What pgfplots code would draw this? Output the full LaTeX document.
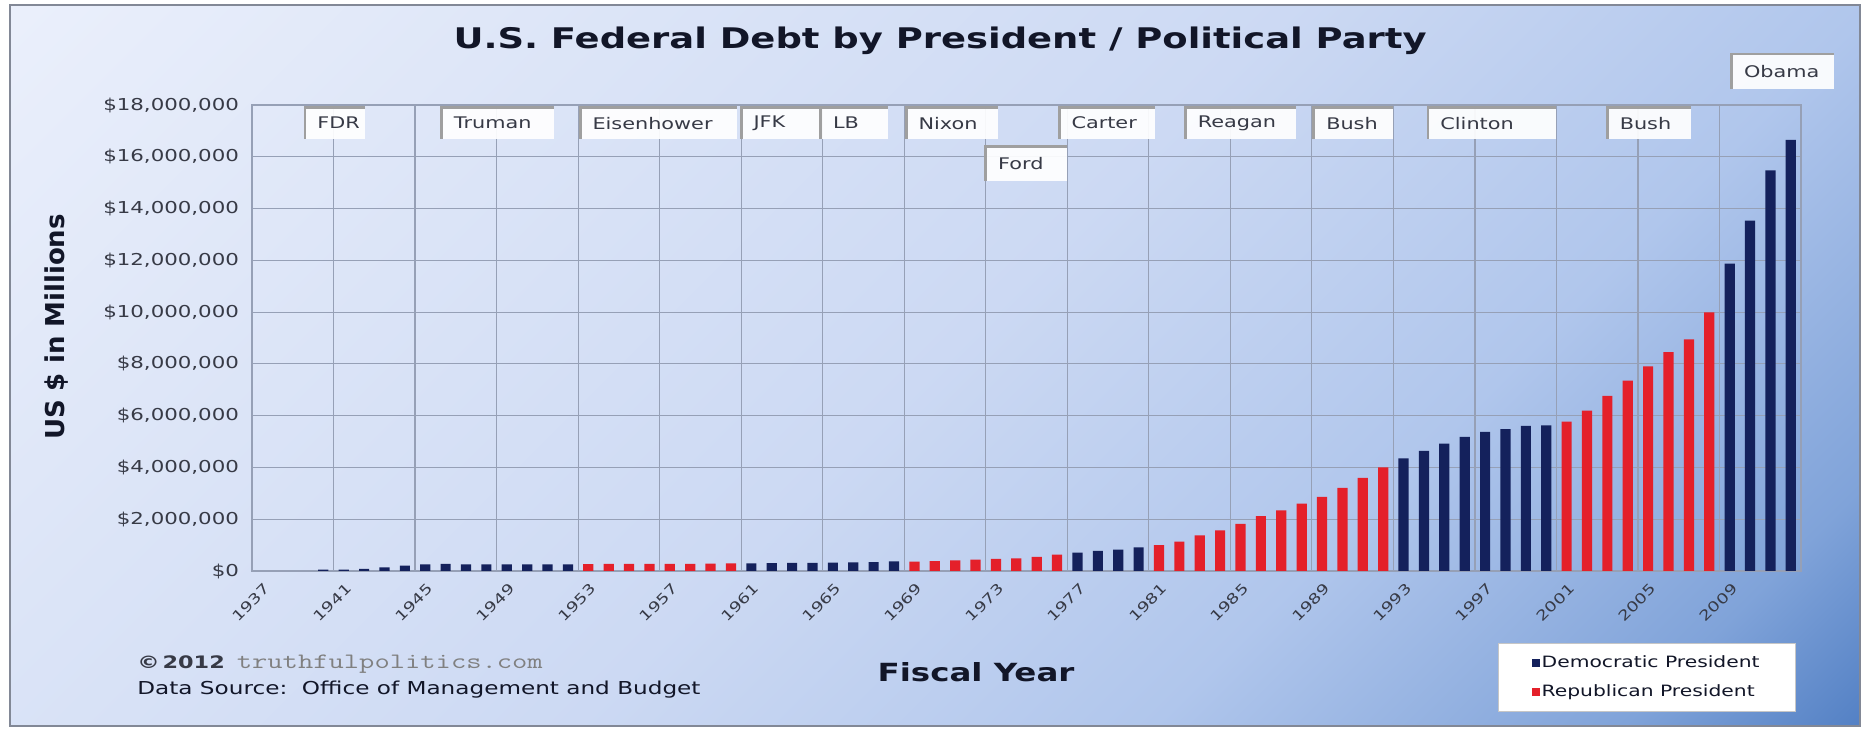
\documentclass[border=0pt]{standalone}
\usepackage{fontspec}
\setmainfont[FakeStretch=1.3]{DejaVu Sans}
\newfontfamily\plainfont{DejaVu Sans}
\usepackage{graphicx}
\usepackage{pgfplots}
\pgfplotsset{compat=1.18}

\definecolor{demblue}{RGB}{20,33,92}
\definecolor{repred}{RGB}{228,32,42}
\definecolor{gridc}{RGB}{150,160,182}
\definecolor{txt}{RGB}{55,58,70}
\definecolor{ttl}{RGB}{18,22,40}
\definecolor{framec}{RGB}{130,136,150}
\definecolor{bgA}{RGB}{234,239,251}
\definecolor{bgB}{RGB}{204,217,243}
\definecolor{bgC}{RGB}{176,198,236}
\definecolor{bgD}{RGB}{128,163,217}
\definecolor{bgE}{RGB}{80,126,195}
\pgfdeclarehorizontalshading{bgshade}{100bp}{color(0bp)=(bgA); color(15bp)=(bgA); color(50bp)=(bgB); color(66bp)=(bgC); color(79bp)=(bgD); color(86bp)=(bgE); color(100bp)=(bgE)}

\newcommand\pbox[6]{%
  \fill[white, opacity=0.92] (axis cs:#1,#3) rectangle (axis cs:#2,#4);
  \draw[gray!75, line width=1.4pt] (axis cs:#1,#3) -- (axis cs:#1,#4) -- (axis cs:#2,#4);
  \node[anchor=west, inner sep=0pt, xshift=6pt, font=\fontsize{8}{9}\selectfont, text=txt] at (axis cs:#1,#5) {#6};
}

\begin{document}
\begin{tikzpicture}
\fill[white] (0,0) rectangle (933pt,366pt);
\shade[shading=bgshade, shading angle=-45] (5pt,3pt) rectangle (930pt,363.5pt);
\draw[framec, line width=1.2pt] (5pt,3pt) rectangle (930pt,363.5pt);
\begin{axis}[
  at={(126pt,80.5pt)}, anchor=south west,
  scale only axis, width=774.5pt, height=233pt,
  xmin=1936.5, xmax=2012.5, ymin=0, ymax=18000000,
  clip=false,
  axis line style={gridc, line width=0.6pt},
  ybar, bar width=0.5,
  /pgf/number format/assume math mode=true,
  xtick={1937,1941,...,2009},
  minor xtick={1940.5,1944.5,...,2008.5},
  xminorgrids=true, xmajorgrids=false, ymajorgrids=true,
  grid style={gridc, line width=0.6pt},
  minor grid style={gridc, line width=0.6pt},
  major tick length=0pt, minor tick length=0pt,
  ytick={0,2000000,4000000,6000000,8000000,10000000,12000000,14000000,16000000,18000000},
  scaled y ticks=false,
  yticklabel={\$\pgfmathprintnumber[fixed,precision=0,1000 sep={,}]{\tick}},
  xticklabel={\pgfmathprintnumber[fixed,precision=0,1000 sep={}]{\tick}},
  yticklabel style={font=\fontsize{8.2}{9}\selectfont, text=txt, xshift=-3pt},
  xticklabel style={font=\fontsize{7}{8}\selectfont, text=txt, rotate=45, anchor=north east, yshift=-1pt},
  title={U.S. Federal Debt by President / Political Party},
  title style={at={(axis description cs:0.4442,1.1223)}, anchor=base, yshift=-6pt, font=\fontsize{14.2}{16}\selectfont\bfseries, text=ttl},
  xlabel={Fiscal Year},
  xlabel style={at={(axis description cs:0.4674,-0.2361)}, anchor=base, yshift=0pt, font=\fontsize{12.5}{14}\selectfont\bfseries, text=ttl},
  ylabel={US \$ in Millions},
  ylabel style={at={(axis description cs:-0.1259,0.5236)}, anchor=center, rotate=0, font=\plainfont\fontsize{13}{15}\selectfont\bfseries, text=ttl},
  legend style={at={(0.9006,-0.2285)}, anchor=center, fill=white, draw=gray!45, line width=0.6pt,
    font=\fontsize{7.8}{9}\selectfont, text=ttl, inner xsep=17pt, inner ysep=5pt, row sep=5pt,
    nodes={inner sep=1pt}},
  legend cell align=left,
]
\addplot[fill=demblue, draw=none, bar shift=0pt,
  legend image code/.code={\fill[demblue] (0pt,-1.8pt) rectangle (3.6pt,1.8pt);}]
coordinates {
(1940,50696) (1941,57531) (1942,79200) (1943,142648) (1944,204079) (1945,260123)
(1946,270991) (1947,257149) (1948,252031) (1949,252610) (1950,256853) (1951,255288) (1952,259097)
(1961,292648) (1962,302928) (1963,310324) (1964,316059) (1965,322318) (1966,328498) (1967,340445) (1968,368685)
(1977,706398) (1978,776602) (1979,829470) (1980,909041)
(1993,4351044) (1994,4643307) (1995,4920586) (1996,5181465) (1997,5369206) (1998,5478189) (1999,5605523) (2000,5628700)
(2009,11875851) (2010,13528807) (2011,15476243) (2012,16650000)
};
\addplot[fill=repred, draw=none, bar shift=0pt,
  legend image code/.code={\fill[repred] (0pt,-1.8pt) rectangle (3.6pt,1.8pt);}]
coordinates {
(1953,265963) (1954,270812) (1955,274366) (1956,272693) (1957,272252) (1958,279666) (1959,287465) (1960,290525)
(1969,365769) (1970,380921) (1971,408176) (1972,435936) (1973,466291) (1974,483893) (1975,541925) (1976,628970)
(1981,994828) (1982,1137315) (1983,1371660) (1984,1564586) (1985,1817423) (1986,2120501) (1987,2345956) (1988,2601104)
(1989,2867800) (1990,3206290) (1991,3598178) (1992,4001787)
(2001,5769881) (2002,6198401) (2003,6760014) (2004,7354657) (2005,7905300) (2006,8451350) (2007,8950744) (2008,9986082)
};
\legend{Democratic President, Republican President}
\pbox{1939.1}{1942.05}{16700000}{17900000}{17300000}{FDR}
\pbox{1945.8}{1951.3}{16700000}{17900000}{17300000}{Truman}
\pbox{1952.6}{1960.3}{16700000}{17900000}{17300000}{Eisenhower}
\pbox{1960.5}{1964.3}{16700000}{17900000}{17300000}{JFK}
\pbox{1964.4}{1967.7}{16700000}{17900000}{17300000}{LB}
\pbox{1968.6}{1973.1}{16700000}{17900000}{17300000}{Nixon}
\pbox{1972.5}{1976.5}{15060000}{16390000}{15725000}{Ford}
\pbox{1976.1}{1980.8}{16700000}{17900000}{17300000}{Carter}
\pbox{1982.3}{1987.7}{16700000}{17900000}{17300000}{Reagan}
\pbox{1988.6}{1992.5}{16700000}{17900000}{17300000}{Bush}
\pbox{1994.2}{2000.5}{16700000}{17900000}{17300000}{Clinton}
\pbox{2003.0}{2007.1}{16700000}{17900000}{17300000}{Bush}
\pbox{2009.1}{2014.1}{18600000}{19970000}{19285000}{Obama}
\end{axis}
\node[anchor=base west, inner sep=0pt, text=txt, font=\fontsize{8.6}{10}\selectfont] at (68.5pt,31.5pt)
  {{\bfseries ©\,2012}\hspace{6pt}{\color{gray}\scalebox{1.35}[1]{\ttfamily\fontsize{11}{12}\selectfont truthfulpolitics.com}}};
\node[anchor=base west, inner sep=0pt, text=ttl, font=\fontsize{8.9}{10}\selectfont] at (68.5pt,18.5pt)
  {Data Source:\ \ Office of Management and Budget};
\end{tikzpicture}
\end{document}
